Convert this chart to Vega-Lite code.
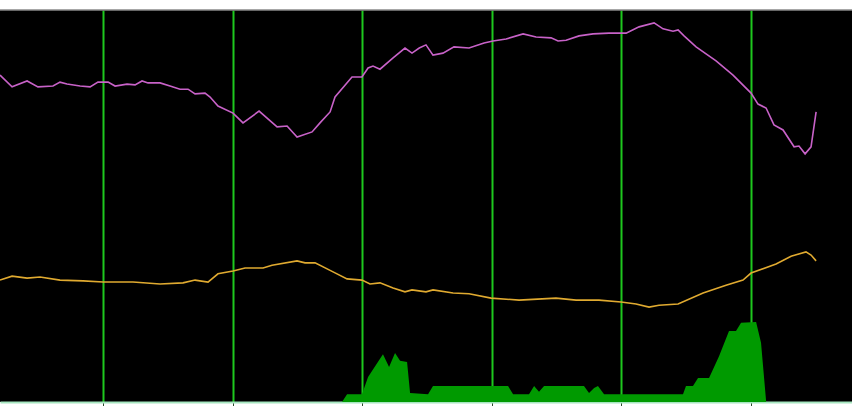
{
  "$schema": "https://vega.github.io/schema/vega-lite/v6.json",
  "width": 852,
  "height": 392,
  "autosize": "none",
  "padding": {"left": 0, "top": 10, "right": 0, "bottom": 4},
  "background": "white",
  "config": {"view": {"fill": "black", "stroke": null}},
  "datasets": {
    "upper": [
      {"t": -7.95, "v": 83.4}, {"t": -7.02, "v": 80.4}, {"t": -5.86, "v": 81.9}, {"t": -5.02, "v": 80.4},
      {"t": -3.86, "v": 80.6}, {"t": -3.32, "v": 81.6}, {"t": -2.78, "v": 81.1}, {"t": -1.77, "v": 80.6},
      {"t": -1.0, "v": 80.4}, {"t": -0.39, "v": 81.6}, {"t": 0.39, "v": 81.6}, {"t": 0.93, "v": 80.6},
      {"t": 1.85, "v": 81.1}, {"t": 2.47, "v": 80.9}, {"t": 3.01, "v": 81.9}, {"t": 3.47, "v": 81.4},
      {"t": 4.4, "v": 81.4}, {"t": 5.17, "v": 80.6}, {"t": 5.94, "v": 79.8}, {"t": 6.56, "v": 79.8},
      {"t": 7.1, "v": 78.6}, {"t": 7.87, "v": 78.8}, {"t": 8.26, "v": 77.8}, {"t": 8.87, "v": 75.5},
      {"t": 10.03, "v": 73.7}, {"t": 10.8, "v": 71.2}, {"t": 12.04, "v": 74.2}, {"t": 13.43, "v": 70.2},
      {"t": 14.2, "v": 70.4}, {"t": 14.97, "v": 67.6}, {"t": 16.13, "v": 68.9}, {"t": 16.74, "v": 71.2},
      {"t": 17.52, "v": 74.0}, {"t": 17.9, "v": 77.8}, {"t": 19.21, "v": 82.9}, {"t": 19.98, "v": 82.9},
      {"t": 20.45, "v": 85.2}, {"t": 20.83, "v": 85.7}, {"t": 21.37, "v": 84.9}, {"t": 22.38, "v": 87.8},
      {"t": 23.3, "v": 90.3}, {"t": 23.84, "v": 89.0}, {"t": 24.4, "v": 90.3}, {"t": 24.92, "v": 91.1},
      {"t": 25.46, "v": 88.5}, {"t": 26.23, "v": 89.0}, {"t": 27.08, "v": 90.6}, {"t": 28.24, "v": 90.3},
      {"t": 29.4, "v": 91.6}, {"t": 30.09, "v": 92.1}, {"t": 31.1, "v": 92.6}, {"t": 32.41, "v": 93.9},
      {"t": 33.41, "v": 93.1}, {"t": 34.57, "v": 92.9}, {"t": 35.11, "v": 92.1}, {"t": 35.73, "v": 92.3},
      {"t": 36.73, "v": 93.4}, {"t": 37.81, "v": 93.9}, {"t": 39.04, "v": 94.1}, {"t": 40.36, "v": 94.1},
      {"t": 41.36, "v": 95.7}, {"t": 42.52, "v": 96.7}, {"t": 43.21, "v": 95.2}, {"t": 43.98, "v": 94.6},
      {"t": 44.37, "v": 94.9}, {"t": 44.83, "v": 93.4}, {"t": 45.76, "v": 90.6}, {"t": 47.3, "v": 87.0},
      {"t": 48.61, "v": 83.4}, {"t": 50.0, "v": 78.8}, {"t": 50.54, "v": 76.0}, {"t": 51.16, "v": 75.0},
      {"t": 51.77, "v": 70.7}, {"t": 52.47, "v": 69.4}, {"t": 53.32, "v": 65.1}, {"t": 53.7, "v": 65.3},
      {"t": 54.17, "v": 63.3}, {"t": 54.63, "v": 65.1}, {"t": 55.02, "v": 74.0}
    ],
    "middle": [
      {"t": -7.95, "v": 31.1}, {"t": -7.02, "v": 32.1}, {"t": -5.86, "v": 31.6}, {"t": -4.86, "v": 31.9},
      {"t": -3.32, "v": 31.1}, {"t": -1.54, "v": 30.9}, {"t": 0.0, "v": 30.6}, {"t": 2.31, "v": 30.6},
      {"t": 4.4, "v": 30.1}, {"t": 6.17, "v": 30.4}, {"t": 7.1, "v": 31.1}, {"t": 8.1, "v": 30.6},
      {"t": 8.87, "v": 32.7}, {"t": 10.03, "v": 33.4}, {"t": 10.96, "v": 34.2}, {"t": 12.35, "v": 34.2},
      {"t": 13.04, "v": 34.9}, {"t": 14.97, "v": 36.0}, {"t": 15.59, "v": 35.5}, {"t": 16.36, "v": 35.5},
      {"t": 17.75, "v": 33.2}, {"t": 18.83, "v": 31.4}, {"t": 19.98, "v": 31.1}, {"t": 20.6, "v": 30.1},
      {"t": 21.37, "v": 30.4}, {"t": 22.38, "v": 29.1}, {"t": 23.3, "v": 28.1}, {"t": 23.84, "v": 28.6},
      {"t": 24.92, "v": 28.1}, {"t": 25.46, "v": 28.6}, {"t": 27.01, "v": 27.8}, {"t": 28.24, "v": 27.6},
      {"t": 29.94, "v": 26.5}, {"t": 32.1, "v": 26.0}, {"t": 34.95, "v": 26.5}, {"t": 36.5, "v": 26.0},
      {"t": 38.27, "v": 26.0}, {"t": 39.97, "v": 25.5}, {"t": 41.13, "v": 25.0}, {"t": 42.13, "v": 24.2},
      {"t": 42.9, "v": 24.7}, {"t": 44.37, "v": 25.0}, {"t": 46.3, "v": 27.8}, {"t": 48.07, "v": 29.8},
      {"t": 49.38, "v": 31.1}, {"t": 50.0, "v": 32.9}, {"t": 51.93, "v": 35.2}, {"t": 53.09, "v": 37.2},
      {"t": 54.24, "v": 38.3}, {"t": 54.63, "v": 37.5}, {"t": 55.02, "v": 36.0}
    ],
    "lower": [
      {"t": 18.44, "v": 0}, {"t": 18.83, "v": 2.0}, {"t": 19.98, "v": 2.0}, {"t": 20.45, "v": 6.4},
      {"t": 21.6, "v": 12.2}, {"t": 22.07, "v": 8.9}, {"t": 22.53, "v": 12.5}, {"t": 22.92, "v": 10.5},
      {"t": 23.46, "v": 10.2}, {"t": 23.69, "v": 2.3}, {"t": 25.08, "v": 2.0}, {"t": 25.46, "v": 4.1},
      {"t": 31.25, "v": 4.1}, {"t": 31.64, "v": 2.0}, {"t": 32.87, "v": 2.0}, {"t": 33.26, "v": 4.1},
      {"t": 33.64, "v": 2.6}, {"t": 34.03, "v": 4.1}, {"t": 37.11, "v": 4.1}, {"t": 37.5, "v": 2.3},
      {"t": 37.89, "v": 3.6}, {"t": 38.19, "v": 4.1}, {"t": 38.66, "v": 2.0}, {"t": 44.75, "v": 2.0},
      {"t": 44.98, "v": 4.1}, {"t": 45.52, "v": 4.1}, {"t": 45.91, "v": 6.1}, {"t": 46.76, "v": 6.1},
      {"t": 47.53, "v": 11.7}, {"t": 48.3, "v": 18.1}, {"t": 48.84, "v": 18.1}, {"t": 49.23, "v": 20.2},
      {"t": 50.39, "v": 20.4}, {"t": 50.77, "v": 15.1}, {"t": 51.16, "v": 0.3}
    ]
  },
  "layer": [
    {
      "data": {"name": "lower"},
      "mark": {"type": "area", "color": "#009a00", "opacity": 1},
      "encoding": {
        "x": {
          "field": "t", "type": "quantitative",
          "scale": {"domain": [-7.95, 57.79], "nice": false, "zero": false},
          "axis": {
            "orient": "bottom", "values": [0, 10, 20, 30, 40, 50], "labels": false,
            "grid": true, "gridColor": "#1ec81e", "gridWidth": 2, "gridOpacity": 1,
            "domain": true, "domainColor": "#a6e6c0", "domainWidth": 2,
            "ticks": true, "tickColor": "#2a4a2a", "tickSize": 4, "tickWidth": 1,
            "title": null
          }
        },
        "y": {
          "field": "v", "type": "quantitative",
          "scale": {"domain": [0, 100], "nice": false},
          "axis": null
        }
      }
    },
    {
      "data": {"name": "middle"},
      "mark": {"type": "line", "color": "#e0aa30", "strokeWidth": 1.6},
      "encoding": {
        "x": {"field": "t", "type": "quantitative"},
        "y": {"field": "v", "type": "quantitative"}
      }
    },
    {
      "data": {"name": "upper"},
      "mark": {"type": "line", "color": "#c862c8", "strokeWidth": 1.6},
      "encoding": {
        "x": {"field": "t", "type": "quantitative"},
        "y": {"field": "v", "type": "quantitative"}
      }
    },
    {
      "data": {"values": [{"top": 100}]},
      "mark": {"type": "rule", "color": "#8a8a8a", "strokeWidth": 1.5},
      "encoding": {
        "y": {"field": "top", "type": "quantitative"}
      }
    }
  ]
}
